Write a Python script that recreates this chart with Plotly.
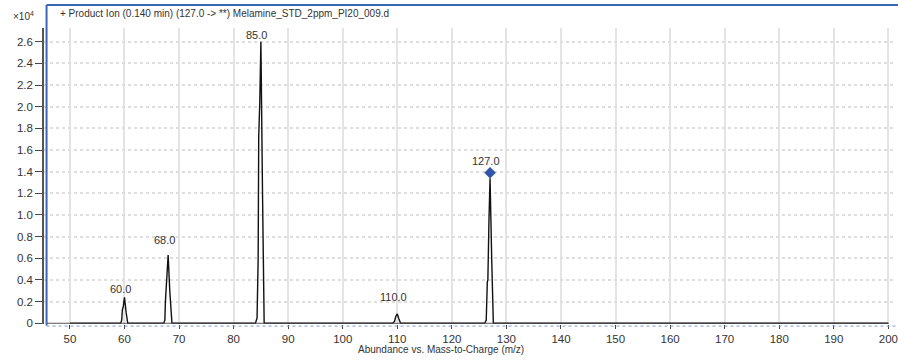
import plotly.graph_objects as go

# Profile spectrum: m/z vs abundance (x10^4)
mz = [50.0, 59.3, 59.5, 59.6, 59.8, 60.0, 60.3, 60.6,
      67.2, 67.4, 67.5, 67.7, 68.0, 68.3, 68.7,
      84.0, 84.3, 84.5, 84.6, 84.8, 85.0, 85.3, 85.6,
      109.2, 109.5, 109.7, 110.0, 110.3, 110.6,
      126.0, 126.3, 126.5, 126.6, 126.8, 127.0, 127.3, 127.6,
      200.0]
abundance = [0.0, 0.0, 0.03, 0.12, 0.16, 0.24, 0.10, 0.0,
             0.0, 0.03, 0.20, 0.42, 0.63, 0.30, 0.0,
             0.0, 0.05, 0.60, 1.72, 2.05, 2.60, 1.20, 0.0,
             0.0, 0.02, 0.06, 0.086, 0.04, 0.0,
             0.0, 0.03, 0.38, 0.40, 0.95, 1.34, 0.60, 0.0,
             0.0]

# Labelled peaks
peak_mz = [60.0, 68.0, 85.0, 110.0, 127.0]
peak_abund = [0.24, 0.63, 2.60, 0.086, 1.34]
peak_text = ["60.0", "68.0", "85.0", "110.0", "127.0"]

# Precursor marker
precursor_mz = [127.0]
precursor_abund = [1.39]

title_text = "+ Product Ion (0.140 min) (127.0 -> **) Melamine_STD_2ppm_PI20_009.d"
x_title = "Abundance vs. Mass-to-Charge (m/z)"

FONT = "Liberation Sans, Arial, sans-serif"
TXT = "#333333"
BLUE = "#3a66b8"

fig = go.Figure()

fig.add_trace(go.Scatter(
    x=mz, y=abundance, mode="lines",
    line=dict(color="#111111", width=1.4),
    hoverinfo="x+y", showlegend=False,
))

fig.add_trace(go.Scatter(
    x=precursor_mz, y=precursor_abund, mode="markers",
    marker=dict(symbol="diamond", size=9, color="#3355a8"),
    showlegend=False,
))

label_shift = [0, 7, -1, 9, 9]
for xm, ya, t, s in zip(peak_mz, peak_abund, peak_text, label_shift):
    fig.add_annotation(
        x=xm, y=ya, text=t, showarrow=False,
        xanchor="center", yanchor="bottom", xshift=-4, yshift=s,
        font=dict(family=FONT, size=11, color=TXT),
    )

# x-axis base line
fig.add_shape(type="line", xref="x", yref="y",
              x0=45.7, x1=200.0, y0=0, y1=0,
              line=dict(color="#555555", width=1.2))

# Frame: solid blue left/top, dotted blue bottom
fig.add_shape(type="line", xref="paper", yref="paper",
              x0=0.003, x1=0.003, y0=-0.005, y1=1.078,
              line=dict(color=BLUE, width=2))
fig.add_shape(type="line", xref="paper", yref="paper",
              x0=0.003, x1=1.01, y0=1.078, y1=1.078,
              line=dict(color=BLUE, width=2))
fig.add_shape(type="line", xref="paper", yref="paper",
              x0=0.003, x1=1.01, y0=-0.007, y1=-0.007,
              line=dict(color="#7a9ad6", width=1, dash="dot"))

fig.add_annotation(
    xref="paper", yref="paper", x=0.017, y=1.049,
    text=title_text, showarrow=False, xanchor="left", yanchor="middle",
    font=dict(family=FONT, size=10, color=TXT),
)
fig.add_annotation(
    xref="paper", yref="paper", x=-0.024, y=1.041,
    text="×10<sup>4</sup>", showarrow=False, xanchor="center", yanchor="middle",
    font=dict(family=FONT, size=10, color=TXT),
)
fig.add_annotation(
    xref="paper", yref="paper", x=0.466, y=-0.086,
    text=x_title, showarrow=False, xanchor="center", yanchor="middle",
    font=dict(family=FONT, size=10, color=TXT),
)

fig.update_layout(
    width=898, height=361,
    margin=dict(l=44, r=0, t=28, b=37),
    paper_bgcolor="white", plot_bgcolor="white",
    font=dict(family=FONT, size=11, color=TXT),
    xaxis=dict(
        range=[45.25, 201.4], tickmode="array",
        tickvals=list(range(50, 201, 10)),
        showgrid=True, gridcolor="#e4e4e4", gridwidth=2,
        zeroline=False, showline=False,
        ticks="outside", ticklen=4, tickcolor="#444444", tickwidth=1,
        ticklabeloverflow="allow",
        tickfont=dict(family=FONT, size=11.5, color=TXT),
    ),
    yaxis=dict(
        range=[-0.007, 2.727], tickmode="array",
        tickvals=[round(0.2 * i, 1) for i in range(14)],
        ticktext=["0"] + [f"{0.2 * i:.1f}" for i in range(1, 14)],
        showgrid=True, gridcolor="#dedede", gridwidth=1.5, griddash="dot",
        zeroline=False, showline=True, linecolor="#555555", linewidth=1.5,
        ticks="outside", ticklen=7, tickcolor="#444444", tickwidth=1,
        tickfont=dict(family=FONT, size=11.5, color=TXT),
    ),
)

fig.write_html("out.html")
